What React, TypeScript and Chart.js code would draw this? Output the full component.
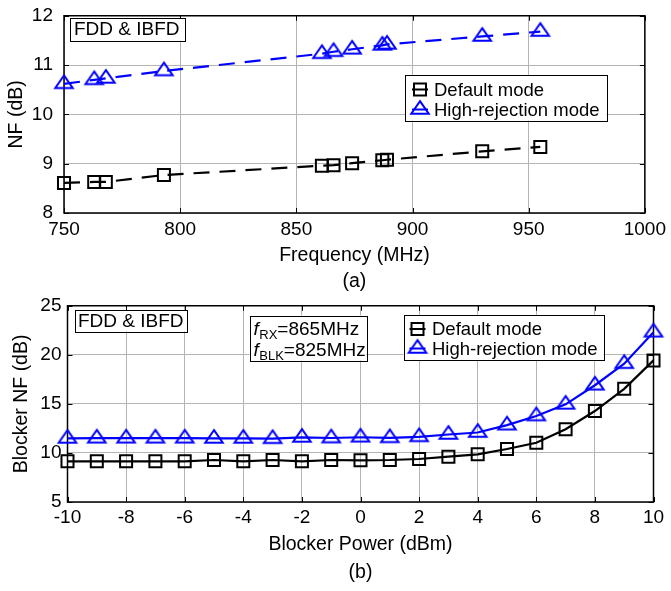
import React, { useEffect, useRef } from 'react';
import { Chart, registerables } from 'chart.js';

Chart.register(...registerables);

const FONT = '"Liberation Sans", Arial, Helvetica, sans-serif';

// ---------- Data: chart (a) ----------
const frequencyMHz = [750, 763, 768, 793, 861, 866, 874, 887, 889, 930, 955];
const nfDefaultMode = [8.61, 8.63, 8.63, 8.77, 8.96, 8.97, 9.01, 9.07, 9.08, 9.25, 9.34];
const nfHighRejectionMode = [10.62, 10.7, 10.73, 10.88, 11.23, 11.27, 11.32, 11.4, 11.42, 11.58, 11.68];
const freqTicks = [750, 800, 850, 900, 950, 1000];
const nfTicks = [8, 9, 10, 11, 12];

// ---------- Data: chart (b) ----------
const blockerPowerDbm = [-10, -9, -8, -7, -6, -5, -4, -3, -2, -1, 0, 1, 2, 3, 4, 5, 6, 7, 8, 9, 10];
const blockerNfDefault = [9.15, 9.15, 9.15, 9.15, 9.15, 9.28, 9.15, 9.28, 9.15, 9.28, 9.25, 9.28, 9.38, 9.62, 9.86, 10.4, 11.04, 12.42, 14.27, 16.53, 19.43];
const blockerNfHighRejection = [11.48, 11.5, 11.5, 11.5, 11.5, 11.48, 11.48, 11.45, 11.58, 11.52, 11.6, 11.54, 11.64, 11.88, 12.08, 12.83, 13.77, 14.95, 16.9, 19.1, 22.3];
const powerTicks = [-10, -8, -6, -4, -2, 0, 2, 4, 6, 8, 10];
const blockerNfTicks = [5, 10, 15, 20, 25];

const LABEL_DEFAULT = 'Default mode';
const LABEL_HIGH = 'High-rejection mode';

const BLUE = '#0000ff';
const BLACK = '#000000';

function makeTriangle(color: string): HTMLCanvasElement {
  const w = 17.5, h = 12.5, lw = 2;
  const W = Math.ceil(w + lw * 3);
  const H = Math.ceil((h * 4) / 3 + lw * 3);
  const c = document.createElement('canvas');
  c.width = W;
  c.height = H;
  const ctx = c.getContext('2d')!;
  const cx = W / 2, cy = H / 2;
  ctx.strokeStyle = color;
  ctx.lineWidth = lw;
  ctx.lineJoin = 'miter';
  ctx.beginPath();
  ctx.moveTo(cx, cy - (2 * h) / 3);
  ctx.lineTo(cx + w / 2, cy + h / 3);
  ctx.lineTo(cx - w / 2, cy + h / 3);
  ctx.closePath();
  ctx.stroke();
  return c;
}

const framePlugin = {
  id: 'frame',
  beforeDatasetsDraw(chart: any) {
    const { ctx, chartArea: a, scales } = chart;
    ctx.save();
    ctx.strokeStyle = '#000';
    ctx.lineWidth = 1;
    const tl = 5;
    ctx.beginPath();
    scales.x.ticks.forEach((_: any, i: number) => {
      const px = Math.round(scales.x.getPixelForTick(i)) + 0.5;
      ctx.moveTo(px, a.bottom);
      ctx.lineTo(px, a.bottom - tl);
      ctx.moveTo(px, a.top);
      ctx.lineTo(px, a.top + tl);
    });
    scales.y.ticks.forEach((_: any, i: number) => {
      const py = Math.round(scales.y.getPixelForTick(i)) + 0.5;
      ctx.moveTo(a.left, py);
      ctx.lineTo(a.left + tl, py);
      ctx.moveTo(a.right, py);
      ctx.lineTo(a.right - tl, py);
    });
    ctx.stroke();
    ctx.lineWidth = 1.5;
    ctx.strokeRect(a.left, a.top, a.right - a.left, a.bottom - a.top);
    ctx.restore();
  },
};

type Box = { x: number; y: number; w: number; h: number };

function drawBox(ctx: CanvasRenderingContext2D, b: Box) {
  ctx.fillStyle = '#fff';
  ctx.fillRect(b.x, b.y, b.w, b.h);
  ctx.strokeStyle = '#000';
  ctx.lineWidth = 1;
  ctx.strokeRect(Math.round(b.x) + 0.5, Math.round(b.y) + 0.5, Math.round(b.w), Math.round(b.h));
}

function makeAnnotPlugin(spec: {
  tag: Box;
  legend: Box & { rows: number[]; markerX: number; textX: number };
  freqBox?: Box & { rows: number[]; textX: number };
  tris: HTMLCanvasElement[];
}) {
  return {
    id: 'annot',
    afterDraw(chart: any) {
      const ctx: CanvasRenderingContext2D = chart.ctx;
      ctx.save();
      // FDD & IBFD tag
      drawBox(ctx, spec.tag);
      ctx.fillStyle = '#000';
      ctx.font = `19px ${FONT}`;
      ctx.textAlign = 'center';
      ctx.textBaseline = 'middle';
      ctx.fillText('FDD & IBFD', spec.tag.x + spec.tag.w / 2, spec.tag.y + spec.tag.h / 2 + 1);

      // frequency box
      if (spec.freqBox) {
        const fb = spec.freqBox;
        drawBox(ctx, fb);
        const lines = [
          ['RX', '=865MHz'],
          ['BLK', '=825MHz'],
        ];
        lines.forEach((ln, i) => {
          const y = fb.y + fb.rows[i];
          let x = fb.textX;
          ctx.textAlign = 'left';
          ctx.textBaseline = 'alphabetic';
          ctx.fillStyle = '#000';
          const base = y + 7;
          ctx.font = `italic 19px ${FONT}`;
          ctx.fillText('f', x, base);
          x += ctx.measureText('f').width + 0.5;
          ctx.font = `13px ${FONT}`;
          ctx.fillText(ln[0], x, base + 4);
          x += ctx.measureText(ln[0]).width;
          ctx.font = `19px ${FONT}`;
          ctx.fillText(ln[1], x, base);
        });
      }

      // legend
      const lg = spec.legend;
      drawBox(ctx, lg);
      chart.data.datasets.forEach((ds: any, i: number) => {
        const y = lg.y + lg.rows[i];
        const mx = lg.markerX;
        ctx.strokeStyle = ds.borderColor;
        ctx.lineWidth = 2;
        ctx.setLineDash([]);
        ctx.beginPath();
        ctx.moveTo(mx - 8, y);
        ctx.lineTo(mx + 8, y);
        ctx.stroke();
        if (ds.pointStyle === 'rect') {
          const s = 12;
          ctx.strokeRect(mx - s / 2, y - s / 2, s, s);
        } else {
          const img = spec.tris[i];
          ctx.drawImage(img, mx - img.width / 2, y - img.height / 2);
        }
        ctx.fillStyle = '#000';
        ctx.font = `18.5px ${FONT}`;
        ctx.textAlign = 'left';
        ctx.textBaseline = 'middle';
        ctx.fillText(ds.label, lg.textX, y + 1);
      });
      ctx.restore();
    },
  };
}

function seriesDataset(label: string, xs: number[], ys: number[], color: string, style: any, dashed: boolean) {
  return {
    label,
    data: xs.map((x, i) => ({ x, y: ys[i] })),
    borderColor: color,
    borderWidth: 2.2,
    borderDash: dashed ? [16, 10] : [],
    pointStyle: style,
    pointRadius: 8.5,
    pointBorderWidth: 2,
    pointBorderColor: color,
    pointBackgroundColor: 'rgba(0,0,0,0)',
    tension: 0,
    clip: false as any,
  };
}

function buildOptions(p: {
  xTicks: number[];
  yTicks: number[];
  xTitle: string[];
  yTitle: string;
  yWidth: number;
  xHeight: number;
  padding: any;
  yTickPad: number;
  xTickPad: number;
  yTitlePad: number;
  xTitleLH: number;
  xTitlePadBottom: number;
}) {
  return {
    animation: false as const,
    responsive: false,
    maintainAspectRatio: false,
    devicePixelRatio: 1,
    layout: { padding: p.padding },
    plugins: { legend: { display: false }, tooltip: { enabled: false } },
    scales: {
      x: {
        type: 'linear' as const,
        min: p.xTicks[0],
        max: p.xTicks[p.xTicks.length - 1],
        afterBuildTicks: (s: any) => {
          s.ticks = p.xTicks.map((v) => ({ value: v }));
        },
        afterFit: (s: any) => {
          s.height = p.xHeight;
        },
        grid: { color: '#b4b4b4', lineWidth: 1, drawTicks: false },
        border: { display: false },
        ticks: {
          font: { family: FONT, size: 19, lineHeight: 1.2 },
          color: '#000',
          padding: p.xTickPad,
          maxRotation: 0,
          autoSkip: false,
          callback: (v: any) => String(v),
        },
        title: {
          display: true,
          text: p.xTitle,
          color: '#000',
          font: { family: FONT, size: 19.5, lineHeight: p.xTitleLH },
          padding: { top: 0, bottom: p.xTitlePadBottom },
        },
      },
      y: {
        type: 'linear' as const,
        min: p.yTicks[0],
        max: p.yTicks[p.yTicks.length - 1],
        afterBuildTicks: (s: any) => {
          s.ticks = p.yTicks.map((v) => ({ value: v }));
        },
        afterFit: (s: any) => {
          s.width = p.yWidth;
        },
        grid: { color: '#b4b4b4', lineWidth: 1, drawTicks: false },
        border: { display: false },
        ticks: {
          font: { family: FONT, size: 19, lineHeight: 0.5 },
          color: '#000',
          padding: p.yTickPad,
          autoSkip: false,
          callback: (v: any) => String(v),
        },
        title: {
          display: true,
          text: p.yTitle,
          color: '#000',
          font: { family: FONT, size: 19.5, lineHeight: 1.2 },
          padding: { top: p.yTitlePad, bottom: 0 },
        },
      },
    },
  };
}

export default function App() {
  const refA = useRef<HTMLCanvasElement>(null);
  const refB = useRef<HTMLCanvasElement>(null);

  useEffect(() => {
    const triBlue = makeTriangle(BLUE);

    const chartA = new Chart(refA.current!, {
      type: 'line',
      data: {
        datasets: [
          seriesDataset(LABEL_DEFAULT, frequencyMHz, nfDefaultMode, BLACK, 'rect', true),
          seriesDataset(LABEL_HIGH, frequencyMHz, nfHighRejectionMode, BLUE, triBlue, true),
        ],
      },
      options: buildOptions({
        xTicks: freqTicks,
        yTicks: nfTicks,
        xTitle: ['Frequency (MHz)', '(a)'],
        yTitle: 'NF (dB)',
        yWidth: 64,
        xHeight: 82,
        padding: { top: 13, right: 22, left: 0, bottom: 0 },
        yTickPad: 11,
        xTickPad: 5,
        yTitlePad: 5,
        xTitleLH: 1.36,
        xTitlePadBottom: 0,
      }) as any,
      plugins: [
        framePlugin,
        makeAnnotPlugin({
          tag: { x: 69.5, y: 18, w: 114.5, h: 22.5 },
          legend: { x: 405, y: 75, w: 201.5, h: 45.5, rows: [14.5, 34.5], markerX: 420, textX: 434 },
          tris: [triBlue, triBlue],
        }),
      ],
    });

    const chartB = new Chart(refB.current!, {
      type: 'line',
      data: {
        datasets: [
          seriesDataset(LABEL_DEFAULT, blockerPowerDbm, blockerNfDefault, BLACK, 'rect', false),
          seriesDataset(LABEL_HIGH, blockerPowerDbm, blockerNfHighRejection, BLUE, triBlue, false),
        ],
      },
      options: buildOptions({
        xTicks: powerTicks,
        yTicks: blockerNfTicks,
        xTitle: ['Blocker Power (dBm)', '(b)'],
        yTitle: 'Blocker NF (dB)',
        yWidth: 67.5,
        xHeight: 89,
        padding: { top: 9, right: 17.5, left: 0, bottom: 0 },
        yTickPad: 6,
        xTickPad: 4.5,
        yTitlePad: 10,
        xTitleLH: 1.4,
        xTitlePadBottom: 5,
      }) as any,
      plugins: [
        framePlugin,
        makeAnnotPlugin({
          tag: { x: 75, y: 15, w: 111.5, h: 21.5 },
          freqBox: { x: 249.5, y: 20.5, w: 117, h: 45, rows: [12, 33], textX: 253.5 },
          legend: { x: 403.5, y: 20, w: 200, h: 45, rows: [14, 33.5], markerX: 417.5, textX: 432 },
          tris: [triBlue, triBlue],
        }),
      ],
    });

    return () => {
      chartA.destroy();
      chartB.destroy();
    };
  }, []);

  return (
    <div style={{ position: 'absolute', left: 0, top: 0, width: 671, height: 591, background: '#fff' }}>
      <canvas ref={refA} width={671} height={295} style={{ position: 'absolute', left: 0, top: 0, width: 671, height: 295 }} />
      <canvas ref={refB} width={671} height={296} style={{ position: 'absolute', left: 0, top: 295, width: 671, height: 296 }} />
    </div>
  );
}
